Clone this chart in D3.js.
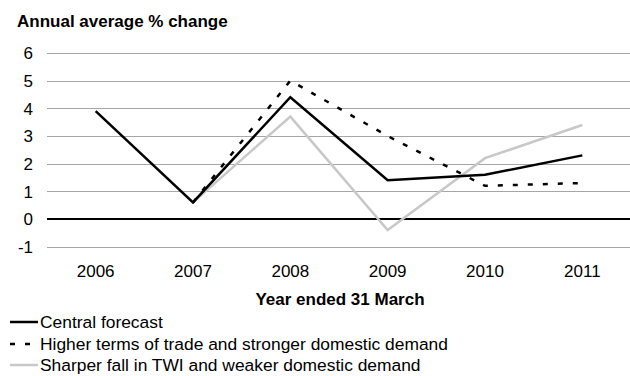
<!DOCTYPE html>
<html><head><meta charset="utf-8">
<script src="https://cdn.jsdelivr.net/npm/d3@7"></script>
<style>body{margin:0;background:#fff;} svg{display:block;font-family:"Liberation Sans",Arial,sans-serif;}</style>
</head><body>
<svg id="c" width="630" height="376"></svg>
<script>
const years = ["2006","2007","2008","2009","2010","2011"];
const yTicks = [-1,0,1,2,3,4,5,6];
const central = [3.9,0.6,4.4,1.4,1.6,2.3];
const higher = [null,0.6,5.0,3.0,1.2,1.3];
const sharper = [null,0.6,3.7,-0.4,2.2,3.4];
const seriesNames = ["Central forecast","Higher terms of trade and stronger domestic demand","Sharper fall in TWI and weaker domestic demand"];

const FS = 17;
const svg = d3.select("#c");
const x = d3.scaleBand().domain(years).range([47,631]);
const y = d3.scaleLinear().domain([-1,6]).range([246.7,53]);

svg.append("text").attr("x",17).attr("y",27).attr("font-size",FS).attr("font-weight","bold").text("Annual average % change");

const yAxis = svg.append("g").attr("transform","translate(47,0)")
  .call(d3.axisLeft(y).tickValues(yTicks).tickSize(0).tickPadding(14).tickFormat(d=>String(d)));
yAxis.select(".domain").remove();
yAxis.selectAll("text").attr("font-size",FS).attr("fill","#000").attr("font-family","Liberation Sans, Arial, sans-serif").attr("dy","0.35em");

svg.append("g").selectAll("line").data(yTicks.filter(d=>d!==0)).join("line")
  .attr("x1",47).attr("x2",630).attr("y1",d=>Math.round(y(d))+0.5).attr("y2",d=>Math.round(y(d))+0.5)
  .attr("stroke","#a6a6a6").attr("stroke-width",1);

const xAxis = svg.append("g").attr("transform","translate(0,264)")
  .call(d3.axisBottom(x).tickSize(0).tickPadding(0));
xAxis.select(".domain").remove();
xAxis.selectAll("text").attr("font-size",FS).attr("fill","#000").attr("font-family","Liberation Sans, Arial, sans-serif").attr("dy","0.76em");

svg.append("line").attr("x1",47).attr("x2",630).attr("y1",y(0)).attr("y2",y(0)).attr("stroke","#000").attr("stroke-width",2);

svg.append("text").attr("x",340).attr("y",305).attr("text-anchor","middle").attr("font-size",FS).attr("font-weight","bold").text("Year ended 31 March");

const line = d3.line().defined(d=>d.v!==null).x(d=>x(d.k)+x.bandwidth()/2).y(d=>y(d.v));
const toPts = arr => years.map((k,i)=>({k,v:arr[i]}));
const styles = [
  {data:sharper, color:"#c8c8c8", dash:null},
  {data:higher, color:"#000", dash:"5,10"},
  {data:central, color:"#000", dash:null}
];
styles.forEach(s=>{
  svg.append("path").datum(toPts(s.data)).attr("d",line).attr("fill","none")
    .attr("stroke",s.color).attr("stroke-width",2.5).attr("stroke-dasharray",s.dash);
});

const legend = [
  {name:seriesNames[0], color:"#000", dash:null},
  {name:seriesNames[1], color:"#000", dash:"5,10"},
  {name:seriesNames[2], color:"#c8c8c8", dash:null}
];
const legY = [322,344,365];
legend.forEach((l,i)=>{
  const yy = legY[i];
  svg.append("line").attr("x1",10).attr("x2",38).attr("y1",yy).attr("y2",yy)
    .attr("stroke",l.color).attr("stroke-width",2.5).attr("stroke-dasharray",l.dash);
  svg.append("text").attr("x",40).attr("y",yy+6).attr("font-size",17.4).text(l.name);
});
</script>
</body></html>
